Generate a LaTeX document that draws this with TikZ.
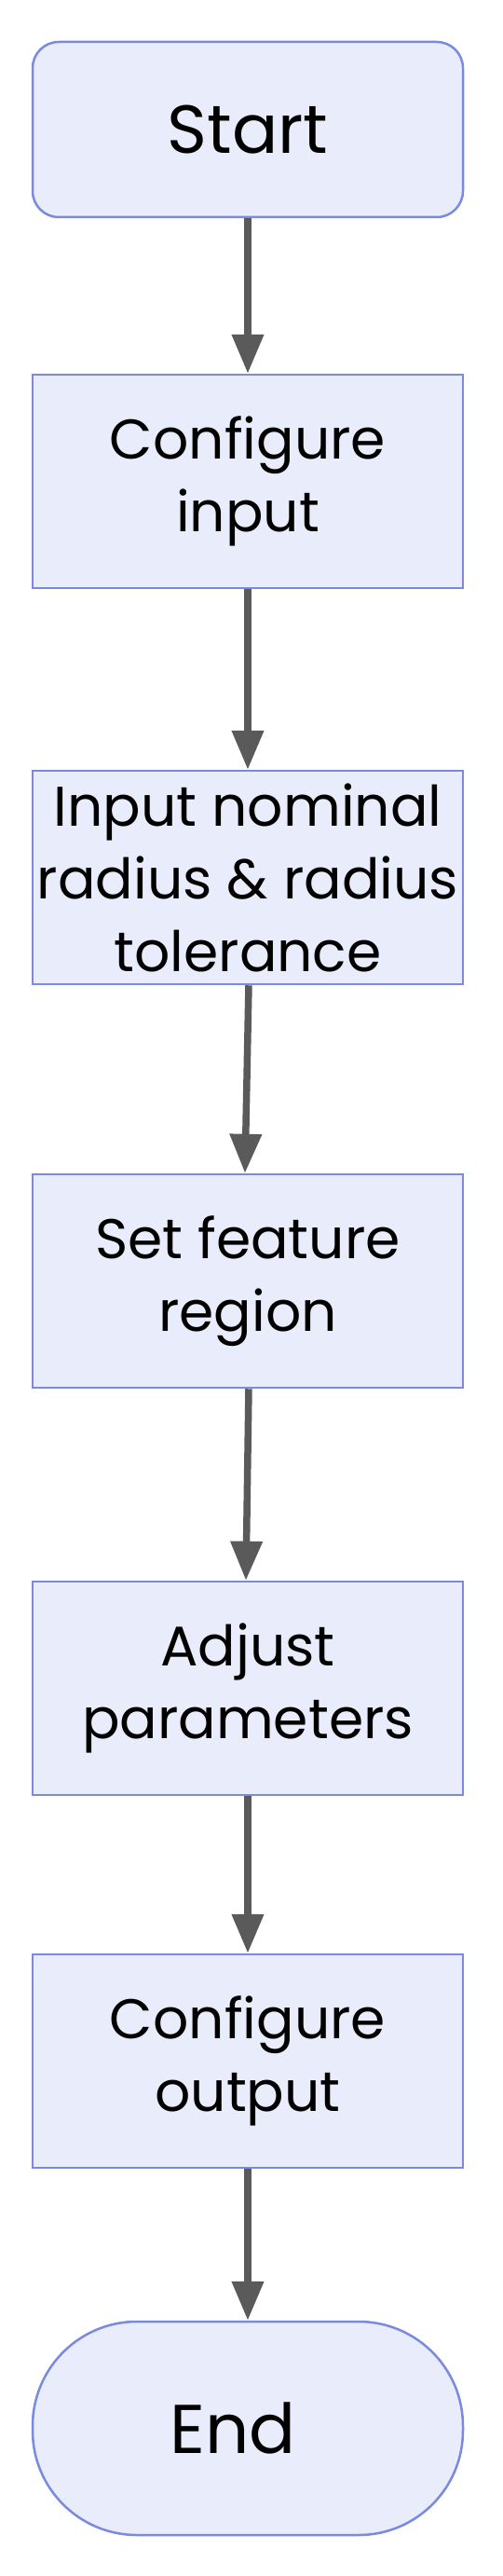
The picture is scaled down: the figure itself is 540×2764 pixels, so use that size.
\documentclass[tikz,border=0pt]{standalone}
\usepackage{fontspec}
\setmainfont{Poppins}
\usetikzlibrary{arrows.meta}
\definecolor{boxfill}{RGB}{232,236,251}
\definecolor{boxline}{RGB}{121,138,224}
\definecolor{arrowcol}{RGB}{90,90,90}
\tikzset{
  box/.style={draw=boxline, fill=boxfill, line width=2.5pt, minimum width=462pt,
    minimum height=229pt, inner sep=0pt, align=center, text=black,
    font=\fontsize{60}{78}\selectfont},
  startbox/.style={box, minimum height=188pt, rounded corners=28pt,
    font=\fontsize{73}{88}\selectfont},
  endbox/.style={box, rounded corners=112pt,
    font=\fontsize{74}{88}\selectfont},
  arr/.style={draw=arrowcol, line width=7.5pt,
    -{Triangle[length=42pt,width=33pt]}}
}
\begin{document}
\begin{tikzpicture}[x=1pt,y=-1pt]
\path[use as bounding box, fill=white] (0,0) rectangle (540,2764);
\node[startbox] (start) at (266,139) {\raisebox{-5pt}{Start}};
\node[box] (cfgin) at (266,516.5) {Configure\\input};
\node[box] (nominal) at (266,941.5) {Input nominal\\radius \& radius\\tolerance};
\node[box] (feature) at (266,1374.5) {Set feature\\region};
\node[box] (adjust) at (266,1811.5) {Adjust\\parameters};
\node[box] (cfgout) at (266,2211.5) {Configure\\output};
\node[endbox] (end) at (266,2605.5) {\hspace*{-32pt}End};
\draw[arr] (start) -- (cfgin);
\draw[arr] (cfgin) -- (nominal);
\draw[arr] ([xshift=1pt]nominal.south) -- ([xshift=-3pt]feature.north);
\draw[arr] ([xshift=1pt]feature.south) -- ([xshift=-2pt]adjust.north);
\draw[arr] (adjust) -- (cfgout);
\draw[arr] (cfgout) -- (end);
\end{tikzpicture}
\end{document}
